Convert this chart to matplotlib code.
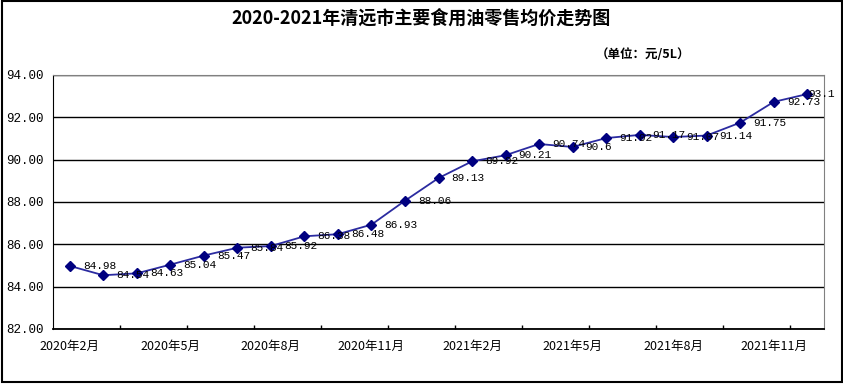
import numpy as np
import matplotlib
matplotlib.use('Agg')
import matplotlib.pyplot as plt
from matplotlib.patches import Rectangle

plt.rcParams['font.family'] = ['Noto Sans CJK SC', 'DejaVu Sans']

# 月份（2020年2月 - 2021年12月）
months = ['2020年2月', '2020年3月', '2020年4月', '2020年5月', '2020年6月', '2020年7月',
          '2020年8月', '2020年9月', '2020年10月', '2020年11月', '2020年12月', '2021年1月',
          '2021年2月', '2021年3月', '2021年4月', '2021年5月', '2021年6月', '2021年7月',
          '2021年8月', '2021年9月', '2021年10月', '2021年11月', '2021年12月']
# 均价（元/5L）
prices = [84.98, 84.54, 84.63, 85.04, 85.47, 85.84, 85.92, 86.38, 86.48, 86.93, 88.06, 89.13,
          89.92, 90.21, 90.74, 90.6, 91.02, 91.17, 91.07, 91.14, 91.75, 92.73, 93.1]
y_ticks = [82, 84, 86, 88, 90, 92, 94]

title = '2020-2021年清远市主要食用油零售均价走势图'
unit = '（单位：元/5L）'

W, H = 843, 385
fig = plt.figure(figsize=(W / 100, H / 100), dpi=100)
fig.patch.set_facecolor('white')

# 图表外框
fig.patches.append(Rectangle((1.5 / W, 1 - 382 / H), 840 / W, 381 / H,
                             transform=fig.transFigure, fill=False,
                             edgecolor='black', linewidth=1.5))

ax = fig.add_axes([53 / W, 1 - 329 / H, (824 - 53) / W, (329 - 75) / H])

x = np.arange(len(prices))
ax.plot(x, prices, color='#2b2ba0', linewidth=1.3, marker='D', markersize=5,
        markerfacecolor='#000080', markeredgecolor='#000080', zorder=3)

for i, v in enumerate(prices):
    # 最后一个标签靠近点以留在图表内
    dx = 1 if i == len(prices) - 1 else 9.4
    ax.annotate(f'{v:g}', (i, v), xytext=(dx, 0), textcoords='offset points',
                ha='left', va='center', fontsize=8, family='Liberation Mono',
                annotation_clip=False, zorder=4)

ax.set_xlim(-0.5, len(prices) - 0.5)
ax.set_ylim(y_ticks[0], y_ticks[-1])
ax.set_yticks(y_ticks)
ax.set_yticklabels([f'{t:.2f}' for t in y_ticks], family='Liberation Mono', fontsize=9)
ax.tick_params(axis='y', length=0, pad=6.5)

ax.set_xticks(x[::3])
ax.set_xticklabels(months[::3], fontsize=9)
ax.set_xticks(np.arange(1.5, len(prices) - 0.5, 2), minor=True)
ax.tick_params(axis='x', which='major', length=0, pad=8)
ax.tick_params(axis='x', which='minor', direction='in', length=3, width=1, color='black')

ax.grid(axis='y', color='black', linewidth=1)
ax.set_axisbelow(True)
ax.spines['left'].set_color('black')
ax.spines['bottom'].set_color('black')
ax.spines['bottom'].set_linewidth(1.3)
ax.spines['top'].set_color('#808080')
ax.spines['right'].set_color('#808080')

fig.text(421 / W, 1 - 18 / H, title, ha='center', va='center', fontsize=13, fontweight='bold')
fig.text(643 / W, 1 - 55 / H, unit, ha='center', va='center', fontsize=9, fontweight='bold')

fig.savefig('out.png', dpi=100)
